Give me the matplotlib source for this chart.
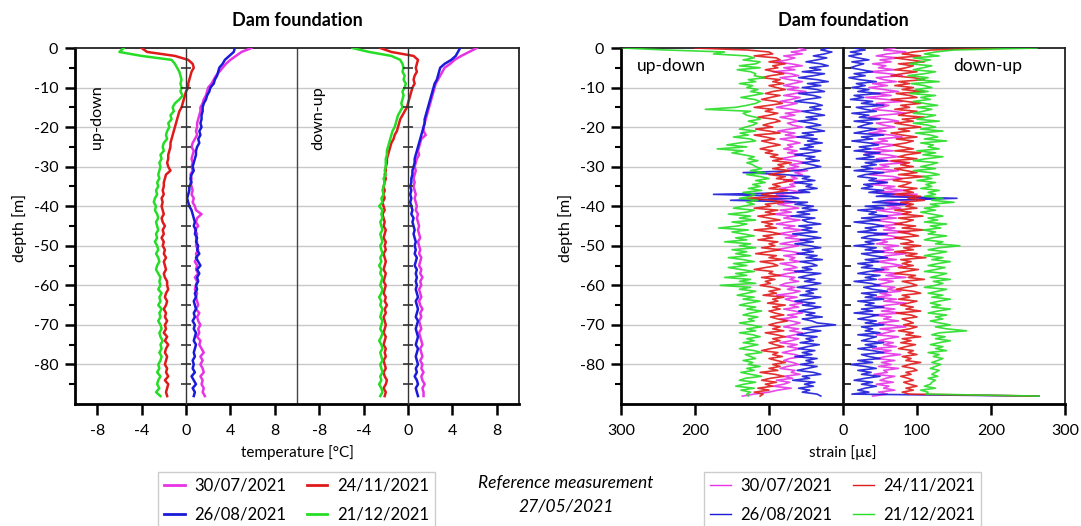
import numpy as np
import matplotlib
matplotlib.use('Agg')
import matplotlib.pyplot as plt
from matplotlib.lines import Line2D

plt.rcParams['font.family'] = ['Lato', 'DejaVu Sans']

# ---------------- data ----------------
dates = ['30/07/2021', '26/08/2021', '24/11/2021', '21/12/2021']
colors = ['#e633e6', '#1a1ad9', '#e01a1a', '#26dd26']

# temperature [°C], depth 0 .. 88 m, 1 m step ; up-down side
temp_ud_m = [5.9, 5.0, 4.5, 4.0, 3.6, 3.3, 3.0, 2.7, 2.5, 2.3,
             2.0, 1.9, 1.8, 1.6, 1.5, 1.3, 1.3, 1.2, 1.1, 1.0,
             1.0, 0.9, 1.0, 0.8, 0.6, 0.5, 0.7, 0.6, 0.5, 0.6,
             0.5, 0.6, 0.4, 0.5, 0.4, 0.5, 0.6, 0.5, 0.7, 0.6,
             0.8, 0.9, 1.4, 1.0, 0.9, 1.1, 0.8, 1.0, 0.9, 1.0,
             0.9, 1.1, 0.9, 1.0, 0.8, 1.0, 0.9, 1.1, 0.8, 1.0,
             0.9, 0.8, 1.0, 0.9, 1.0, 1.1, 0.9, 1.2, 1.0, 1.1,
             1.3, 1.1, 1.2, 1.0, 1.3, 1.2, 1.4, 1.6, 1.3, 1.5,
             1.3, 1.5, 1.6, 1.3, 1.5, 1.4, 1.6, 1.5, 1.7]
temp_ud_b = [4.4, 4.3, 3.9, 3.5, 3.3, 3.0, 2.9, 2.8, 2.6, 2.5,
             2.2, 2.1, 1.9, 1.8, 1.6, 1.5, 1.5, 1.4, 1.4, 1.3,
             1.4, 1.2, 1.3, 1.1, 1.2, 1.0, 0.9, 0.9, 0.8, 0.7,
             0.6, 0.7, 0.5, 0.4, 0.5, 0.3, 0.3, 0.2, 0.1, 0.2,
             0.3, 0.5, 0.6, 0.7, 0.8, 0.7, 0.9, 0.8, 1.0, 0.9,
             1.1, 1.0, 1.2, 0.9, 1.1, 1.3, 1.0, 1.2, 1.0, 1.1,
             0.9, 1.0, 0.8, 0.9, 0.7, 0.8, 0.9, 0.7, 0.8, 0.6,
             0.8, 0.7, 0.9, 0.8, 0.7, 0.9, 0.8, 0.7, 0.8, 0.6,
             0.7, 0.6, 0.8, 0.5, 0.7, 0.9, 0.6, 0.8, 0.7]
temp_ud_r = [-4.0, -3.5, -1.0, 0.2, 0.6, 0.7, 0.5, 0.4, 0.3, 0.2,
             0.2, 0.0, -0.1, -0.2, -0.3, -0.4, -0.6, -0.7, -0.8, -0.9,
             -1.0, -1.1, -1.2, -1.3, -1.4, -1.4, -1.5, -1.6, -1.6, -1.7,
             -1.6, -1.4, -1.8, -1.9, -2.0, -2.0, -2.1, -2.0, -2.2, -2.1,
             -2.2, -2.1, -2.0, -2.2, -2.1, -1.9, -2.1, -2.0, -2.2, -2.0,
             -2.1, -1.9, -2.0, -1.8, -2.0, -1.9, -1.8, -2.0, -1.9, -1.7,
             -1.7, -1.6, -1.8, -1.9, -1.7, -1.8, -2.0, -1.8, -1.9, -1.7,
             -1.9, -1.8, -2.0, -1.7, -1.9, -1.6, -1.8, -1.9, -1.7, -1.8,
             -1.9, -1.7, -1.8, -1.6, -1.9, -1.6, -1.7, -1.8, -1.7]
temp_ud_g = [-5.6, -6.0, -4.0, -1.3, -1.0, -0.8, -0.6, -0.5, -0.4, -0.5,
             -0.4, -0.5, -0.3, -0.6, -1.0, -1.2, -1.1, -1.4, -1.3, -1.6,
             -1.5, -1.7, -1.8, -1.7, -2.0, -2.1, -2.0, -2.3, -2.2, -2.4,
             -2.3, -2.4, -2.5, -2.4, -2.6, -2.5, -2.7, -2.6, -2.8, -2.9,
             -2.7, -2.8, -2.6, -2.5, -2.7, -2.6, -2.5, -2.7, -2.6, -2.8,
             -2.6, -2.5, -2.7, -2.5, -2.4, -2.6, -2.7, -2.5, -2.3, -2.4,
             -2.3, -2.5, -2.2, -2.4, -2.3, -2.5, -2.2, -2.4, -2.3, -2.5,
             -2.3, -2.2, -2.4, -2.3, -2.1, -2.3, -2.2, -2.4, -2.2, -2.3,
             -2.5, -2.4, -2.6, -2.3, -2.5, -2.6, -2.4, -2.7, -2.3]
# down-up side
temp_du_m = [6.2, 5.5, 4.8, 4.2, 3.8, 3.3, 3.1, 2.9, 2.7, 2.5,
             2.4, 2.3, 2.2, 2.1, 2.0, 1.9, 1.8, 1.7, 1.6, 1.5,
             1.4, 1.4, 1.6, 1.2, 1.1, 1.0, 0.9, 1.0, 0.8, 0.7,
             0.6, 0.7, 0.6, 0.5, 0.6, 0.5, 0.6, 0.7, 0.6, 0.7,
             0.8, 0.7, 0.9, 0.8, 0.9, 1.0, 0.9, 1.0, 1.1, 0.9,
             1.0, 1.1, 1.0, 1.2, 1.1, 1.0, 1.2, 1.1, 1.3, 1.1,
             1.2, 1.0, 1.1, 1.2, 1.0, 1.1, 1.3, 1.1, 1.2, 1.0,
             1.1, 1.2, 1.0, 1.1, 1.2, 1.3, 1.1, 1.2, 1.3, 1.1,
             1.3, 1.2, 1.4, 1.2, 1.3, 1.5, 1.3, 1.4, 1.4]
temp_du_b = [4.7, 4.5, 4.3, 3.9, 3.3, 2.9, 2.8, 2.7, 2.6, 2.4,
             2.3, 2.2, 2.1, 2.0, 1.9, 1.8, 1.7, 1.6, 1.5, 1.5,
             1.4, 1.3, 1.2, 1.1, 1.0, 0.9, 0.8, 0.7, 0.6, 0.6,
             0.5, 0.4, 0.4, 0.3, 0.3, 0.2, 0.3, 0.2, 0.3, 0.2,
             0.3, 0.4, 0.3, 0.5, 0.4, 0.5, 0.6, 0.5, 0.6, 0.7,
             0.6, 0.7, 0.6, 0.8, 0.7, 0.6, 0.8, 0.7, 0.8, 0.7,
             0.8, 0.7, 0.8, 0.9, 0.7, 0.8, 0.9, 0.8, 0.7, 0.9,
             0.8, 0.7, 0.8, 0.9, 0.8, 0.7, 0.9, 0.8, 0.7, 0.8,
             0.9, 0.7, 0.8, 0.6, 0.8, 0.9, 0.7, 0.8, 0.9]
temp_du_r = [-2.5, -1.5, 0.5, 0.9, 0.8, 0.7, 0.8, 0.6, 0.5, 0.6,
             0.4, 0.3, 0.2, 0.1, 0.0, -0.1, -0.3, -0.5, -0.7, -0.8,
             -0.9, -1.0, -1.2, -1.3, -1.5, -1.6, -1.7, -1.8, -1.9, -1.9,
             -2.0, -2.0, -2.1, -2.0, -2.1, -2.2, -2.1, -2.2, -2.1, -2.3,
             -2.2, -2.1, -2.3, -2.2, -2.1, -2.2, -2.0, -2.1, -2.2, -2.0,
             -2.1, -2.0, -2.2, -2.1, -2.0, -2.1, -2.2, -2.0, -2.1, -2.2,
             -2.0, -2.1, -2.2, -2.0, -2.1, -1.9, -2.1, -2.0, -2.2, -2.1,
             -2.0, -2.1, -2.2, -2.0, -2.1, -2.2, -2.0, -2.1, -2.0, -2.2,
             -2.1, -2.0, -2.2, -2.1, -1.9, -2.0, -2.2, -2.0, -2.1]
temp_du_g = [-5.0, -3.5, -1.5, -0.7, -0.5, -0.4, -0.5, -0.3, -0.4, -0.2,
             -0.3, -0.5, -0.4, -0.5, -0.6, -0.5, -0.7, -0.9, -1.0, -1.1,
             -1.2, -1.4, -1.5, -1.6, -1.7, -1.8, -1.9, -1.9, -2.0, -2.0,
             -2.0, -2.1, -2.0, -2.2, -2.1, -2.2, -2.3, -2.2, -2.4, -2.3,
             -2.6, -2.3, -2.4, -2.3, -2.5, -2.4, -2.3, -2.5, -2.4, -2.3,
             -2.5, -2.4, -2.3, -2.5, -2.4, -2.6, -2.4, -2.5, -2.3, -2.4,
             -2.5, -2.3, -2.4, -2.6, -2.4, -2.5, -2.3, -2.4, -2.5, -2.3,
             -2.4, -2.5, -2.3, -2.4, -2.6, -2.4, -2.3, -2.5, -2.4, -2.3,
             -2.5, -2.4, -2.3, -2.5, -2.4, -2.6, -2.4, -2.3, -2.5]

# strain [µε], depth 0 .. 88 m, 0.5 m step ; up-down side (magnitudes)
strain_ud_g = [297, 240, 160, 175, 130, 120, 135, 112, 118, 140,
               112, 143, 125, 118, 120, 105, 128, 118, 140, 122,
               130, 115, 125, 108, 122, 138, 120, 112, 118, 130,
               145, 186, 125, 135, 130, 118, 112, 128, 116, 122,
               132, 140, 118, 139, 128, 148, 125, 118, 140, 157,
               130, 170, 135, 150, 134, 120, 128, 115, 130, 122,
               118, 110, 125, 105, 130, 112, 100, 118, 105, 122,
               112, 128, 110, 135, 118, 125, 140, 115, 130, 120,
               135, 148, 120, 130, 155, 125, 140, 118, 150, 130,
               142, 168, 128, 150, 135, 120, 145, 130, 160, 125,
               140, 118, 150, 130, 145, 125, 155, 135, 120, 148,
               130, 155, 138, 120, 145, 130, 160, 125, 140, 118,
               166, 125, 140, 118, 130, 143, 120, 135, 112, 128,
               140, 118, 130, 110, 125, 135, 115, 128, 120, 140,
               125, 110, 130, 118, 140, 122, 112, 130, 120, 135,
               115, 128, 140, 120, 110, 132, 125, 118, 135, 122,
               128, 112, 130, 120, 138, 125, 110, 132, 140, 118,
               134, 145, 120, 138, 125, 130, 128]
strain_ud_r = [200, 130, 100, 95, 120, 90, 85, 100, 78, 95,
               88, 105, 92, 80, 98, 110, 85, 95, 80, 100,
               90, 78, 95, 105, 85, 98, 110, 90, 82, 100,
               120, 95, 105, 88, 100, 115, 92, 85, 98, 108,
               95, 118, 100, 85, 120, 105, 92, 110, 98, 85,
               100, 112, 95, 105, 88, 98, 82, 95, 70, 88,
               80, 95, 72, 85, 100, 78, 90, 68, 82, 95,
               85, 100, 75, 92, 110, 88, 130, 95, 80, 105,
               98, 120, 88, 105, 92, 115, 100, 85, 110, 95,
               105, 90, 120, 98, 85, 108, 95, 115, 88, 100,
               92, 110, 85, 102, 118, 90, 100, 80, 112, 95,
               88, 105, 120, 95, 100, 85, 110, 92, 105, 98,
               112, 95, 85, 100, 90, 108, 80, 95, 88, 102,
               78, 95, 85, 100, 92, 80, 98, 88, 75, 90,
               100, 85, 95, 80, 105, 90, 78, 95, 85, 100,
               92, 80, 98, 110, 88, 95, 82, 100, 90, 78,
               95, 85, 100, 88, 112, 92, 80, 98, 110, 90,
               105, 95, 115, 100, 120, 108, 112]
strain_ud_m = [60, 50, 70, 55, 80, 65, 75, 90, 70, 55,
               80, 65, 95, 70, 60, 85, 72, 55, 68, 80,
               60, 75, 50, 65, 80, 58, 70, 85, 62, 75,
               90, 70, 55, 78, 65, 85, 70, 60, 75, 68,
               55, 72, 88, 65, 78, 60, 85, 70, 58, 75,
               68, 80, 62, 75, 55, 70, 85, 65, 50, 72,
               60, 75, 48, 65, 55, 70, 62, 80, 58, 72,
               65, 85, 70, 55, 90, 75, 100, 80, 65, 88,
               72, 60, 85, 70, 95, 68, 80, 58, 75, 90,
               65, 80, 55, 72, 88, 62, 78, 50, 70, 85,
               60, 75, 90, 68, 55, 80, 65, 72, 58, 85,
               70, 62, 80, 55, 75, 88, 65, 72, 60, 78,
               85, 65, 75, 58, 70, 90, 62, 78, 68, 55,
               72, 60, 80, 65, 55, 75, 62, 85, 70, 58,
               68, 80, 60, 72, 55, 65, 78, 60, 70, 85,
               62, 75, 58, 70, 82, 65, 55, 72, 80, 68,
               60, 75, 85, 65, 70, 58, 80, 68, 90, 72,
               80, 95, 70, 88, 100, 120, 136]
strain_ud_b = [20, 30, 15, 25, 40, 22, 35, 50, 30, 20,
               45, 30, 55, 25, 40, 60, 35, 20, 48, 30,
               55, 35, 25, 60, 40, 30, 50, 65, 38, 28,
               45, 30, 55, 40, 25, 50, 35, 60, 42, 30,
               50, 38, 25, 55, 40, 62, 35, 48, 28, 52,
               40, 58, 30, 45, 65, 38, 50, 32, 55, 42,
               30, 48, 60, 135, 80, 45, 55, 38, 65, 42,
               50, 35, 60, 45, 175, 70, 60, 152, 48, 65,
               40, 55, 35, 62, 45, 70, 38, 55, 48, 30,
               60, 42, 55, 35, 68, 48, 30, 58, 40, 65,
               45, 30, 55, 40, 62, 35, 50, 28, 58, 42,
               35, 55, 42, 65, 30, 48, 60, 38, 52, 30,
               45, 62, 35, 50, 40, 58, 30, 48, 65, 38,
               55, 30, 45, 60, 38, 50, 28, 55, 42, 35,
               10, 40, 55, 30, 48, 62, 35, 50, 40, 58,
               32, 48, 60, 38, 55, 42, 65, 35, 50, 40,
               58, 35, 48, 62, 40, 30, 55, 45, 68, 38,
               52, 40, 60, 45, 55, 35, 30]
# down-up side
strain_du_m = [70, 55, 85, 60, 45, 75, 50, 65, 40, 58,
               48, 70, 35, 62, 80, 45, 55, 72, 40, 60,
               35, 55, 75, 42, 65, 30, 58, 80, 45, 62,
               52, 40, 68, 85, 50, 35, 60, 75, 45, 55,
               70, 42, 58, 35, 65, 80, 48, 60, 38, 72,
               55, 40, 68, 30, 60, 75, 45, 58, 85, 50,
               62, 40, 75, 52, 35, 68, 80, 45, 60, 38,
               70, 55, 85, 45, 100, 65, 130, 75, 55, 90,
               60, 78, 45, 65, 85, 50, 72, 40, 62, 80,
               48, 70, 55, 90, 42, 65, 78, 50, 60, 45,
               75, 55, 68, 40, 85, 60, 50, 72, 45, 65,
               80, 52, 62, 40, 75, 58, 85, 48, 68, 55,
               42, 70, 60, 78, 50, 65, 45, 72, 55, 85,
               60, 45, 70, 52, 80, 40, 65, 55, 75, 48,
               62, 85, 50, 70, 58, 45, 75, 60, 48, 68,
               55, 72, 40, 65, 50, 78, 58, 45, 70, 52,
               65, 48, 75, 55, 60, 42, 70, 58, 50, 68,
               45, 62, 55, 70, 48, 60, 40]
strain_du_b = [15, 30, 10, 25, 8, 20, 35, 12, 28, 18,
               10, 25, 40, 15, 30, 8, 22, 45, 18, 30,
               12, 35, 20, 50, 15, 28, 10, 40, 25, 55,
               18, 30, 45, 12, 35, 22, 50, 15, 40, 28,
               20, 45, 30, 15, 55, 25, 40, 12, 35, 48,
               22, 38, 15, 50, 28, 42, 18, 60, 30, 45,
               25, 40, 15, 55, 30, 20, 45, 35, 60, 28,
               40, 25, 55, 35, 70, 45, 154, 60, 40, 85,
               30, 55, 20, 45, 35, 60, 25, 50, 15, 40,
               55, 30, 45, 20, 60, 35, 25, 50, 30, 42,
               15, 45, 30, 55, 25, 40, 60, 30, 48, 20,
               40, 25, 55, 35, 20, 50, 30, 45, 15, 38,
               50, 28, 40, 60, 25, 45, 30, 55, 20, 42,
               30, 55, 25, 40, 15, 48, 35, 20, 45, 30,
               55, 25, 40, 30, 50, 20, 45, 35, 25, 55,
               30, 45, 20, 40, 55, 25, 35, 50, 20, 40,
               10, 30, 45, 20, 38, 25, 50, 30, 15, 40,
               25, 45, 30, 20, 35, 12, 265]
strain_du_r = [210, 120, 95, 80, 105, 70, 90, 110, 75, 95,
               85, 70, 100, 80, 65, 95, 110, 75, 90, 70,
               95, 80, 110, 72, 90, 100, 65, 85, 105, 78,
               90, 70, 100, 85, 75, 110, 80, 95, 70, 88,
               105, 75, 90, 65, 80, 100, 72, 95, 85, 68,
               80, 95, 70, 105, 85, 75, 100, 65, 90, 78,
               95, 70, 85, 100, 75, 110, 80, 68, 92, 85,
               75, 100, 82, 95, 70, 105, 88, 110, 78, 95,
               85, 100, 70, 92, 80, 108, 75, 95, 85, 70,
               98, 80, 110, 75, 90, 102, 70, 88, 95, 78,
               105, 82, 95, 70, 100, 85, 112, 78, 92, 80,
               95, 75, 102, 85, 70, 98, 88, 110, 80, 92,
               100, 85, 72, 95, 105, 80, 90, 75, 100, 88,
               78, 95, 85, 105, 72, 92, 100, 80, 88, 95,
               82, 100, 90, 75, 95, 85, 105, 80, 92, 78,
               98, 85, 75, 95, 88, 100, 80, 92, 85, 105,
               90, 80, 95, 100, 85, 92, 78, 88, 95, 82,
               90, 100, 85, 95, 80, 90, 262]
strain_du_g = [262, 150, 125, 110, 130, 95, 118, 105, 90, 120,
               108, 95, 125, 110, 88, 115, 100, 130, 92, 110,
               120, 98, 115, 90, 125, 105, 118, 95, 110, 128,
               100, 120, 108, 95, 125, 112, 100, 130, 95, 115,
               125, 105, 135, 98, 118, 128, 110, 140, 105, 122,
               115, 130, 100, 125, 108, 135, 112, 95, 128, 118,
               105, 125, 95, 118, 130, 108, 120, 100, 125, 112,
               120, 105, 130, 115, 125, 110, 135, 120, 150, 118,
               130, 110, 125, 105, 120, 135, 115, 128, 110, 140,
               118, 132, 108, 125, 115, 140, 120, 110, 135, 125,
               158, 130, 115, 140, 125, 110, 135, 120, 145, 128,
               115, 138, 125, 110, 140, 130, 118, 145, 122, 135,
               125, 110, 140, 128, 115, 135, 120, 145, 130, 118,
               132, 120, 145, 128, 115, 140, 125, 135, 118, 130,
               145, 125, 140, 167, 130, 120, 138, 125, 145, 130,
               118, 135, 125, 140, 115, 130, 122, 135, 128, 120,
               132, 125, 118, 130, 125, 120, 128, 115, 125, 120,
               118, 110, 125, 105, 115, 112, 265]

depth_ticks = [0, -10, -20, -30, -40, -50, -60, -70, -80]
depth_tick_labels = ['0', '-10', '-20', '-30', '-40', '-50', '-60', '-70', '-80']
temp_tick_values = [-8, -4, 0, 4, 8]
temp_tick_labels = ['-8', '-4', '0', '4', '8']
strain_tick_values = [-300, -200, -100, 0, 100, 200, 300]
strain_tick_labels = ['300', '200', '100', '0', '100', '200', '300']

temp_ud = [temp_ud_m, temp_ud_b, temp_ud_r, temp_ud_g]
temp_du = [temp_du_m, temp_du_b, temp_du_r, temp_du_g]
strain_ud = [strain_ud_m, strain_ud_b, strain_ud_r, strain_ud_g]
strain_du = [strain_du_m, strain_du_b, strain_du_r, strain_du_g]

# ---------------- figure ----------------
W, H = 1081, 526
fig = plt.figure(figsize=(W / 100, H / 100), dpi=100)

def box(x0, y0, x1, y1):
    return [x0 / W, 1 - y1 / H, (x1 - x0) / W, (y1 - y0) / H]

ax1 = fig.add_axes(box(75, 48, 519, 404))
ax2 = fig.add_axes(box(621, 48, 1065, 404))

OFF = 20  # horizontal offset of the down-up temperature profile
FS_TICK = 11.5

def style_axes(ax):
    ax.set_ylim(-90, 0)
    ax.set_yticks(depth_ticks)
    ax.set_yticklabels(depth_tick_labels, fontsize=FS_TICK)
    ax.set_yticks(np.arange(-85, 0, 10), minor=True)
    ax.tick_params(axis='y', which='major', direction='out', length=7, width=1.8, pad=5)
    ax.tick_params(axis='y', which='minor', direction='out', length=4.5, width=1.5)
    ax.tick_params(axis='x', which='major', direction='out', length=8, width=1.8,
                   labelsize=FS_TICK, pad=6.5)
    for y in depth_ticks[1:]:
        ax.axhline(y, color='#c8c8c8', lw=1.0, zorder=0)
    ax.spines['left'].set_linewidth(2.0)
    ax.spines['bottom'].set_linewidth(2.0)
    ax.spines['top'].set_linewidth(1.3)
    ax.spines['right'].set_linewidth(1.3)
    ax.spines['top'].set_color('#222222')
    ax.spines['right'].set_color('#222222')

def inner_axis(ax, xpos, lw, color, length, direction):
    t = ax.twinx()
    t.set_ylim(ax.get_ylim())
    t.patch.set_visible(False)
    for s in ['left', 'top', 'bottom']:
        t.spines[s].set_visible(False)
    t.spines['right'].set_position(('data', xpos))
    t.spines['right'].set_linewidth(lw)
    t.spines['right'].set_color(color)
    t.set_yticks(np.arange(-85, 0, 5))
    t.tick_params(axis='y', which='both', direction=direction, length=length,
                  width=1.2, color=color, labelright=False)
    return t

# temperature panel
for vals, col in zip(temp_ud, colors):
    ax1.plot(vals, -np.arange(len(vals)), color=col, lw=1.8, zorder=3)
for vals, col in zip(temp_du, colors):
    ax1.plot(np.array(vals) + OFF, -np.arange(len(vals)), color=col, lw=1.8, zorder=3)
ax1.set_xlim(-10, 30)
ax1.set_xticks(temp_tick_values + [v + OFF for v in temp_tick_values])
ax1.set_xticklabels(temp_tick_labels + temp_tick_labels)
style_axes(ax1)
ax1.axvline(10, color='#444444', lw=1.0, zorder=2)
inner_axis(ax1, 0, 1.0, '#333333', 7, 'inout')
inner_axis(ax1, OFF, 1.0, '#333333', 7, 'inout')
ax1.text(-8.0, -17.5, 'up-down', rotation=90, ha='center', va='center', fontsize=11.6)
ax1.text(11.9, -17.7, 'down-up', rotation=90, ha='center', va='center', fontsize=11.6)

# strain panel
for vals, col in zip(strain_ud, colors):
    ax2.plot(-np.array(vals), -0.5 * np.arange(len(vals)), color=col, lw=1.2, alpha=0.9, zorder=3)
for vals, col in zip(strain_du, colors):
    ax2.plot(vals, -0.5 * np.arange(len(vals)), color=col, lw=1.2, alpha=0.9, zorder=3)
ax2.set_xlim(-300, 300)
ax2.set_xticks(strain_tick_values)
ax2.set_xticklabels(strain_tick_labels)
style_axes(ax2)
inner_axis(ax2, 0, 2.0, '#111111', 6, 'out')
ax2.text(-232, -4.6, 'up-down', ha='center', va='center', fontsize=12.5)
ax2.text(195, -4.6, 'down-up', ha='center', va='center', fontsize=12.5)

# titles and labels
fig.text(297 / W, 1 - 20 / H, 'Dam foundation', ha='center', va='center', fontsize=13, fontweight='bold')
fig.text(843 / W, 1 - 20 / H, 'Dam foundation', ha='center', va='center', fontsize=13, fontweight='bold')
fig.text(297 / W, 1 - 453 / H, 'temperature [°C]', ha='center', va='center', fontsize=11)
fig.text(843 / W, 1 - 453 / H, 'strain [µε]', ha='center', va='center', fontsize=11)
fig.text(20 / W, 1 - 228 / H, 'depth [m]', ha='center', va='center', rotation=90, fontsize=11.5)
fig.text(566 / W, 1 - 228 / H, 'depth [m]', ha='center', va='center', rotation=90, fontsize=11.5)
fig.text(566 / W, 1 - 483 / H, 'Reference measurement', ha='center', va='center', fontsize=12.5, style='italic')
fig.text(566 / W, 1 - 507 / H, '27/05/2021', ha='center', va='center', fontsize=12.5, style='italic')

# legends
h1 = [Line2D([], [], color=c, lw=2.0) for c in colors]
h2 = [Line2D([], [], color=c, lw=1.0) for c in colors]
for handles, x0 in ((h1, 158), (h2, 704)):
    leg = fig.legend(handles, dates, ncol=2, loc='upper left',
                     bbox_to_anchor=(x0 / W, 1 - 472 / H), fontsize=12,
                     frameon=True, fancybox=False, borderaxespad=0,
                     handlelength=1.25, handletextpad=0.6, columnspacing=1.2,
                     labelspacing=0.75, borderpad=0.35)
    leg.get_frame().set_edgecolor('#c0c0c0')
    leg.get_frame().set_linewidth(1.0)

fig.savefig('out.png', dpi=100)
